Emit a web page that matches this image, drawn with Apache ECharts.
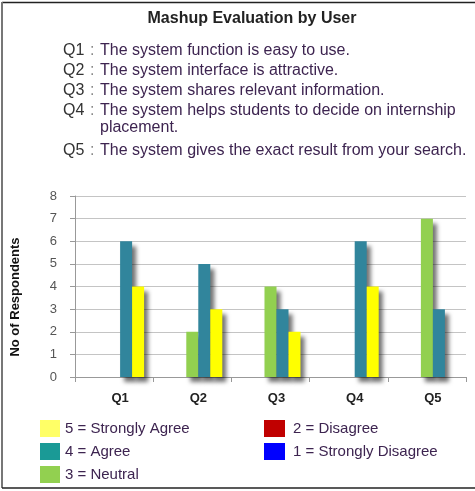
<!DOCTYPE html>
<html>
<head>
<meta charset="utf-8">
<script src="https://cdn.jsdelivr.net/npm/echarts@6/dist/echarts.min.js"></script>
<style>
  html, body { margin: 0; padding: 0; background: #fff; }
  #chart { width: 475px; height: 491px; }
</style>
</head>
<body>
<div id="chart"></div>
<script>
const categories = ['Q1', 'Q2', 'Q3', 'Q4', 'Q5'];
const strongDisagree = [0, 0, 0, 0, 0];
const disagree = [0, 0, 0, 0, 0];
const neutral = [0, 2, 4, 0, 7];
const agree = [6, 5, 3, 6, 3];
const strongAgree = [4, 3, 2, 4, 0];
const yTicks = { min: 0, max: 8, step: 1 };
const questions = [
  ['Q1', 'The system function is easy to use.'],
  ['Q2', 'The system interface is attractive.'],
  ['Q3', 'The system shares relevant information.'],
  ['Q4', 'The system helps students to decide on internship'],
  ['', 'placement.'],
  ['Q5', 'The system gives the exact result from your search.']
];

const font = "'Liberation Sans', Arial, sans-serif";
const lineY = [52, 72, 92, 112, 129, 152];

const shadow = {
  shadowColor: 'rgba(0,0,0,0.55)',
  shadowBlur: 4,
  shadowOffsetX: 4,
  shadowOffsetY: 5
};

function bar(name, data, color) {
  return {
    name: name,
    type: 'bar',
    data: data.map(v => (v === 0 ? '-' : v)),
    barWidth: 12,
    barGap: '0%',
    itemStyle: Object.assign({ color: color }, shadow)
  };
}

// question list above the chart
const questionText = [];
questions.forEach((q, i) => {
  if (q[0]) {
    questionText.push({
      type: 'text', left: 63, top: lineY[i] - 9,
      style: { text: q[0], font: '16px ' + font, fill: '#333' }
    });
    questionText.push({
      type: 'text', left: 90, top: lineY[i] - 9,
      style: { text: ':', font: '16px ' + font, fill: '#888' }
    });
  }
  questionText.push({
    type: 'text', left: 100, top: lineY[i] - 9,
    style: { text: q[1], font: '16px ' + font, fill: '#3d2450' }
  });
});

const legendText = { fontFamily: font, fontSize: 15, color: '#3d2450' };

const chart = echarts.init(document.getElementById('chart'));
chart.setOption({
  animation: false,
  backgroundColor: '#fff',
  title: {
    text: 'Mashup Evaluation by User',
    left: 247, textAlign: 'center', top: 6,
    textStyle: { fontFamily: font, fontSize: 16, fontWeight: 'bold', color: '#222' }
  },
  grid: { left: 75, right: 9, top: 196, bottom: 114 },
  xAxis: {
    type: 'category',
    data: categories,
    axisLine: { lineStyle: { color: '#999' } },
    axisTick: { show: true, length: 5, lineStyle: { color: '#999' } },
    axisLabel: {
      fontFamily: font, fontSize: 13, fontWeight: 'bold', color: '#222',
      margin: 15, padding: [0, 0, 0, 12]
    }
  },
  yAxis: {
    type: 'value',
    min: yTicks.min, max: yTicks.max, interval: yTicks.step,
    axisLine: { show: true, lineStyle: { color: '#999' } },
    axisTick: { show: true, length: 5, lineStyle: { color: '#999' } },
    splitLine: { lineStyle: { color: '#c4c4c4' } },
    axisLabel: { fontFamily: font, fontSize: 13, color: '#555', margin: 18 }
  },
  legend: [
    {
      orient: 'vertical', left: 40, top: 420, padding: 0,
      itemWidth: 20, itemHeight: 17, itemGap: 6,
      icon: 'rect',
      textStyle: legendText,
      data: [
        { name: '5 = Strongly Agree', itemStyle: { color: '#ffff66' } },
        { name: '4 = Agree', itemStyle: { color: '#1a9a96' } },
        { name: '3 = Neutral', itemStyle: { color: '#92d050' } }
      ]
    },
    {
      orient: 'vertical', left: 264, top: 420, padding: 0,
      itemWidth: 21, itemHeight: 17, itemGap: 6,
      icon: 'rect',
      textStyle: Object.assign({ padding: [0, 0, 0, 3] }, legendText),
      data: [
        { name: '2 = Disagree', itemStyle: { color: '#c00000' } },
        { name: '1 = Strongly Disagree', itemStyle: { color: '#0000ff' } }
      ]
    }
  ],
  series: [
    bar('1 = Strongly Disagree', strongDisagree, '#0000ff'),
    bar('2 = Disagree', disagree, '#c00000'),
    bar('3 = Neutral', neutral, '#92d050'),
    bar('4 = Agree', agree, '#31859c'),
    bar('5 = Strongly Agree', strongAgree, '#ffff00')
  ],
  graphic: questionText.concat([
    {
      type: 'text', x: 15, y: 297, rotation: Math.PI / 2,
      style: {
        text: 'No of Respondents', font: 'bold 13px ' + font, fill: '#111',
        align: 'center', verticalAlign: 'middle'
      }
    },
    { type: 'line', shape: { x1: 2, y1: 2.5, x2: 475, y2: 2.5 }, style: { stroke: '#222', lineWidth: 1.5 } },
    { type: 'line', shape: { x1: 2, y1: 2, x2: 2, y2: 488 }, style: { stroke: '#777', lineWidth: 2 } },
    { type: 'line', shape: { x1: 2, y1: 488, x2: 475, y2: 488 }, style: { stroke: '#222', lineWidth: 1.5 } }
  ])
});
</script>
</body>
</html>
